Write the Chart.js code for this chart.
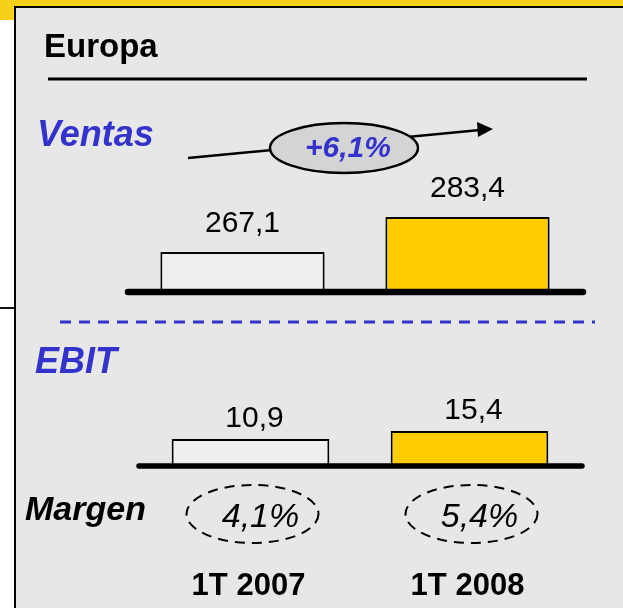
<!DOCTYPE html>
<html lang="es">
<head>
    <meta charset="UTF-8">
    <title>Europa - Ventas y EBIT</title>
    <script src="https://cdn.jsdelivr.net/npm/chart.js"></script>
    <style>
        * { margin: 0; padding: 0; box-sizing: border-box; }
        body {
            width: 623px;
            height: 608px;
            overflow: hidden;
            position: relative;
            background: #ffffff;
            font-family: 'Liberation Sans', Arial, sans-serif;
        }
        .band { position: absolute; background: #f7d117; }
        .panel {
            position: absolute;
            left: 14px;
            top: 6px;
            width: 700px;
            height: 700px;
            background: #e7e7e7;
            border-left: 2px solid #000;
            border-top: 2px solid #000;
        }
        .stub { position: absolute; left: 0; top: 307px; width: 14px; height: 2px; background: #111; }
        .chart-box { position: absolute; }
        #ventas-box { left: 100px; top: 150px; width: 510px; height: 160px; }
        #ebit-box { left: 110px; top: 380px; width: 500px; height: 228px; }
        svg.overlay { position: absolute; left: 0; top: 0; pointer-events: none; }
    </style>
</head>
<body>
    <div class="band" style="left:0;top:0;width:623px;height:8px"></div>
    <div class="band" style="left:0;top:0;width:14px;height:20px"></div>
    <div class="panel"></div>
    <div class="stub"></div>

    <div class="chart-box" id="ventas-box"><canvas id="ventasChart"></canvas></div>
    <div class="chart-box" id="ebit-box"><canvas id="ebitChart"></canvas></div>

    <svg class="overlay" width="623" height="608" font-family="'Liberation Sans', Arial, sans-serif">
        <text x="44" y="57" font-size="33" font-weight="bold" fill="#000">Europa</text>
        <line x1="48" y1="79" x2="587" y2="79" stroke="#000" stroke-width="3" />

        <text x="37" y="146" font-size="36" font-weight="bold" font-style="italic" fill="#3333cc">Ventas</text>
        <line x1="188" y1="158" x2="480" y2="130" stroke="#000" stroke-width="2.5" />
        <polygon points="493,129 477,122 478,137" fill="#000" />
        <ellipse cx="344" cy="148" rx="74" ry="25" fill="#d4d4d4" stroke="#000" stroke-width="2.5" />
        <text id="growth" x="348" y="157" text-anchor="middle" font-size="30" font-weight="bold" font-style="italic" fill="#3333cc"></text>

        <line x1="60" y1="322" x2="595" y2="322" stroke="#3333cc" stroke-width="3" stroke-dasharray="11 8" />

        <text x="35" y="373" font-size="36" font-weight="bold" font-style="italic" fill="#3333cc">EBIT</text>
        <text x="25" y="520" font-size="34" font-weight="bold" font-style="italic" fill="#000">Margen</text>
    </svg>

    <script>
        // data
        const categories = ['1T 2007', '1T 2008'];
        const ventas = [267.1, 283.4];
        const ebit = [10.9, 15.4];
        const margen = [4.1, 5.4];
        const ventasGrowth = 6.1;

        // value axis ranges (bars do not start at zero in the original)
        const ventasRange = [248.5, 305.3];
        const ebitRange = [-4.3, 35.6];

        const barColors = ['#efefef', '#ffcc00'];
        const FONT = "'Liberation Sans', Arial, sans-serif";

        function fmt(v) {
            return v.toFixed(1).replace('.', ',');
        }

        document.getElementById('growth').textContent = '+' + fmt(ventasGrowth) + '%';

        const baseLine = {
            id: 'baseLine',
            afterDatasetsDraw(chart, args, opts) {
                const ctx = chart.ctx;
                const area = chart.chartArea;
                const y = chart.scales.y.getPixelForValue(opts.base);
                ctx.save();
                ctx.strokeStyle = '#000';
                ctx.lineWidth = opts.width;
                ctx.lineCap = 'round';
                ctx.beginPath();
                ctx.moveTo(area.left - 2, y);
                ctx.lineTo(area.right + 3, y);
                ctx.stroke();

                // value labels above the bars
                ctx.font = '30px ' + FONT;
                ctx.fillStyle = '#000';
                ctx.textAlign = 'center';
                ctx.textBaseline = 'alphabetic';
                const meta = chart.getDatasetMeta(0);
                meta.data.forEach(function (bar, i) {
                    const v = chart.data.datasets[0].data[i];
                    ctx.fillText(fmt(v), bar.x + opts.dx, bar.y - opts.gap);
                });
                ctx.restore();
            }
        };

        const margenLabels = {
            id: 'margenLabels',
            afterDraw(chart) {
                const ctx = chart.ctx;
                const x = chart.scales.x;
                ctx.save();
                margen.forEach(function (m, i) {
                    const cx = x.getPixelForValue(i);
                    ctx.setLineDash([10, 7]);
                    ctx.strokeStyle = '#000';
                    ctx.lineWidth = 2;
                    ctx.beginPath();
                    ctx.ellipse(cx + 2, 514 - 380, 66, 29, 0, 0, Math.PI * 2);
                    ctx.stroke();
                    ctx.setLineDash([]);
                    ctx.fillStyle = '#000';
                    ctx.textAlign = 'center';
                    ctx.font = 'italic 34px ' + FONT;
                    ctx.fillText(fmt(m) + '%', cx + 10, 527 - 380);
                    ctx.font = 'bold 31px ' + FONT;
                    ctx.fillText(categories[i], cx - 2, 595 - 380);
                });
                ctx.restore();
            }
        };

        function barChart(id, values, range, barPct, padding, labelOpts) {
            const ctx = document.getElementById(id).getContext('2d');
            return new Chart(ctx, {
                type: 'bar',
                data: {
                    labels: categories,
                    datasets: [{
                        data: values,
                        base: range[0],
                        backgroundColor: barColors,
                        borderColor: '#000',
                        borderWidth: 2,
                        borderSkipped: 'bottom',
                        categoryPercentage: 1,
                        barPercentage: barPct
                    }]
                },
                options: {
                    responsive: true,
                    maintainAspectRatio: false,
                    animation: false,
                    events: [],
                    layout: { padding: padding },
                    scales: {
                        x: { display: false },
                        y: { display: false, min: range[0], max: range[1] }
                    },
                    plugins: {
                        legend: { display: false },
                        tooltip: { enabled: false },
                        baseLine: labelOpts
                    }
                },
                plugins: id === 'ebitChart' ? [baseLine, margenLabels] : [baseLine]
            });
        }

        barChart('ventasChart', ventas, ventasRange, 0.73,
            { left: 30, right: 30, top: 20, bottom: 18 },
            { base: ventasRange[0], width: 6.5, dx: 0, gap: 20 });

        barChart('ebitChart', ebit, ebitRange, 0.72,
            { left: 31, right: 31, top: 15, bottom: 142 },
            { base: ebitRange[0], width: 5.5, dx: 4, gap: 12 });
    </script>
</body>
</html>
